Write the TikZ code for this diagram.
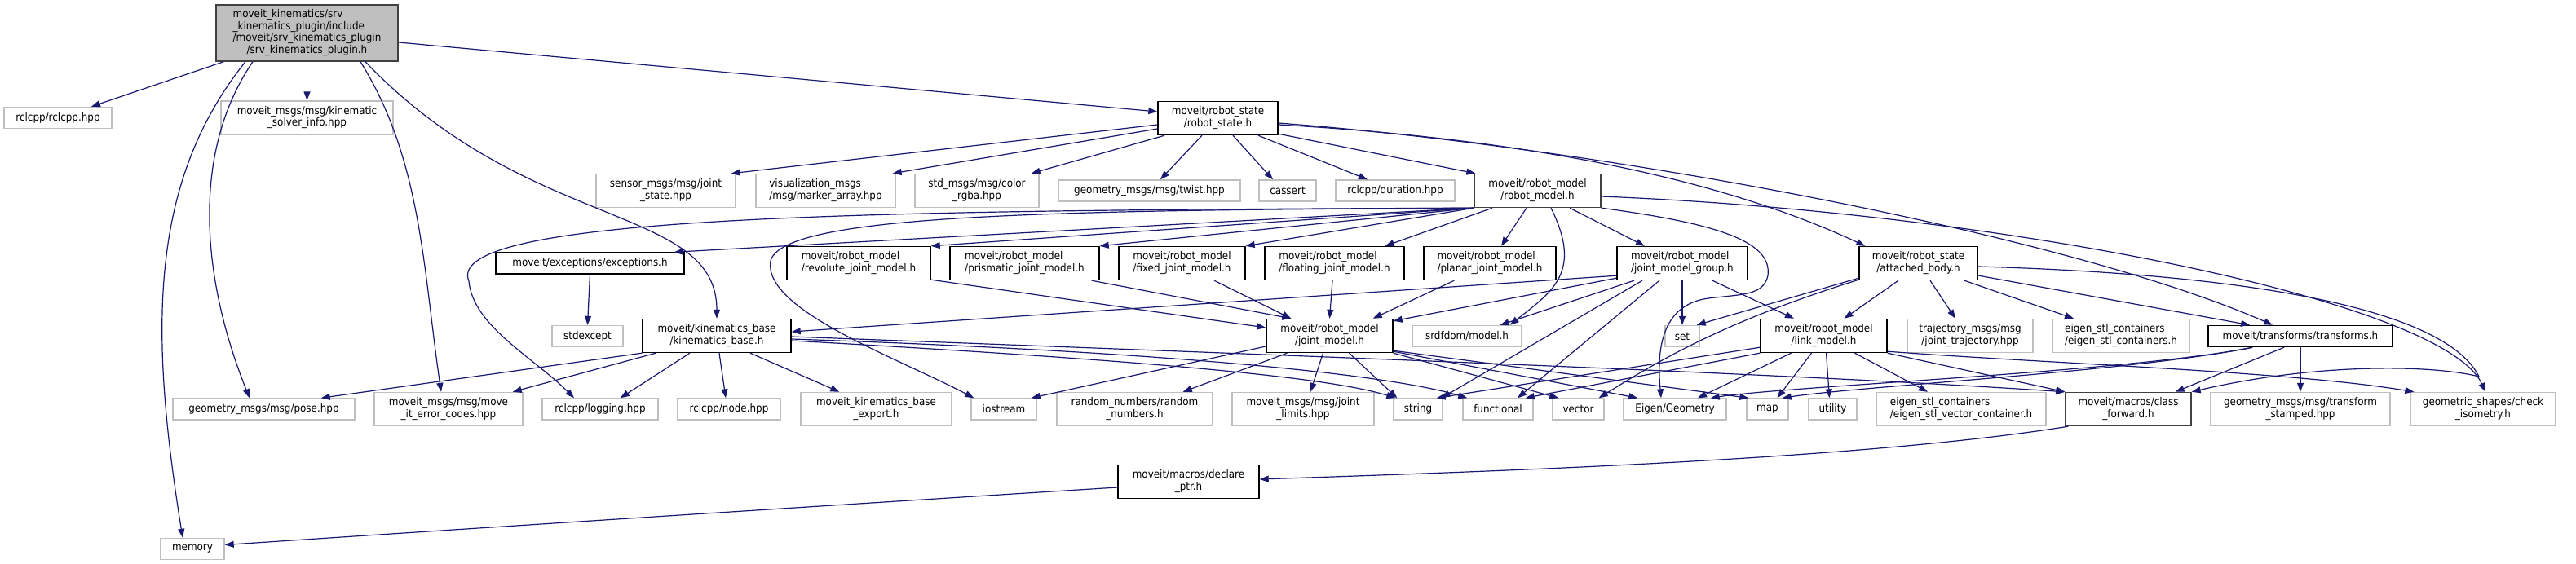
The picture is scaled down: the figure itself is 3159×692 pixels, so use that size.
\documentclass[tikz,border=0pt]{standalone}
\usepackage{fontspec}
\usepackage{xcolor}
\usepackage{tikz}
\usetikzlibrary{arrows.meta}
\newfontfamily\doxyfont{DejaVu Sans Condensed}
\definecolor{edgeblue}{RGB}{25,25,112}
\definecolor{extgray}{RGB}{191,191,191}
\definecolor{hubgray}{RGB}{64,64,64}
% all lines left, the last one centred
\newcommand{\flines}[2]{\begin{tabular}{@{}l@{}}#1\\\multicolumn{1}{@{}c@{}}{#2}\end{tabular}}
\tikzset{
  filebox/.style={rectangle, line width=1.4pt, inner sep=2pt, align=center,
                  font={\doxyfont\fontsize{13.3pt}{14.7pt}\selectfont}},
  extf/.style={filebox, draw=extgray, fill=white},
  docf/.style={filebox, draw=black, fill=white},
  hubf/.style={filebox, draw=hubgray, fill=white},
  rootf/.style={filebox, draw=hubgray, fill=extgray},
  oneline/.style={minimum height=26pt},
  twoline/.style={minimum height=41pt},
  incl/.style={-{Triangle[length=11pt,width=8pt]}, draw=edgeblue, line width=1.2pt}
}
\begin{document}
\begin{tikzpicture}[x=1pt,y=-1pt]
\fill[white] (0,0) rectangle (3159,692);
\useasboundingbox (0,0) rectangle (3159,692);
% rank 0 and 1
\node[rootf, minimum width=223pt, minimum height=69pt] (root) at (376.5,40.5)
  {\flines{moveit\_kinematics/srv\\\_kinematics\_plugin/include\\/moveit/srv\_kinematics\_plugin}{/srv\_kinematics\_plugin.h}};
\node[extf, oneline, minimum width=132pt] (rclcpp) at (71,144.5) {rclcpp/rclcpp.hpp};
\node[extf, twoline, minimum width=211pt] (solverinfo) at (376.5,144.5) {\flines{moveit\_msgs/msg/kinematic}{\_solver\_info.hpp}};
\node[docf, twoline, minimum width=147pt] (rstate) at (1493.5,145) {\flines{moveit/robot\_state}{/robot\_state.h}};
% rank 2
\node[extf, twoline, minimum width=171pt] (sensor) at (816.5,234) {\flines{sensor\_msgs/msg/joint}{\_state.hpp}};
\node[extf, twoline, minimum width=171pt] (viz) at (1012.5,234) {\flines{visualization\_msgs}{/msg/marker\_array.hpp}};
\node[extf, twoline, minimum width=152pt] (color) at (1198,234) {\flines{std\_msgs/msg/color}{\_rgba.hpp}};
\node[extf, oneline, minimum width=223pt] (twist) at (1409.5,234) {geometry\_msgs/msg/twist.hpp};
\node[extf, oneline, minimum width=70pt] (stdcassert) at (1579,234) {cassert};
\node[extf, oneline, minimum width=146pt] (duration) at (1711,234) {rclcpp/duration.hpp};
\node[hubf, twoline, minimum width=155pt] (rmodel) at (1885.5,234) {\flines{moveit/robot\_model}{/robot\_model.h}};
% rank 3
\node[docf, oneline, minimum width=231pt] (except) at (723.5,323) {moveit/exceptions/exceptions.h};
\node[docf, twoline, minimum width=176pt] (revolute) at (1053,323) {\flines{moveit/robot\_model}{/revolute\_joint\_model.h}};
\node[docf, twoline, minimum width=183pt] (prismatic) at (1256.5,323) {\flines{moveit/robot\_model}{/prismatic\_joint\_model.h}};
\node[docf, twoline, minimum width=155pt] (fixed) at (1449.5,323) {\flines{moveit/robot\_model}{/fixed\_joint\_model.h}};
\node[docf, twoline, minimum width=171pt] (floating) at (1636.5,323) {\flines{moveit/robot\_model}{/floating\_joint\_model.h}};
\node[docf, twoline, minimum width=162pt] (planar) at (1827,323) {\flines{moveit/robot\_model}{/planar\_joint\_model.h}};
\node[docf, twoline, minimum width=160pt] (jmg) at (2063,323) {\flines{moveit/robot\_model}{/joint\_model\_group.h}};
\node[docf, twoline, minimum width=145pt] (attached) at (2352.5,323) {\flines{moveit/robot\_state}{/attached\_body.h}};
% rank 4
\node[extf, oneline, minimum width=87pt] (stdexcept) at (720.5,412.5) {stdexcept};
\node[docf, twoline, minimum width=182pt] (kbase) at (879,412) {\flines{moveit/kinematics\_base}{/kinematics\_base.h}};
\node[docf, twoline, minimum width=155pt] (jmodel) at (1630.5,412) {\flines{moveit/robot\_model}{/joint\_model.h}};
\node[extf, oneline, minimum width=134pt] (srdf) at (1799,412.5) {srdfdom/model.h};
\node[extf, oneline, minimum width=42pt] (stdset) at (2063,412.5) {set};
\node[docf, twoline, minimum width=155pt] (lmodel) at (2236.5,412) {\flines{moveit/robot\_model}{/link\_model.h}};
\node[extf, twoline, minimum width=154pt] (trajmsg) at (2416,412) {\flines{trajectory\_msgs/msg}{/joint\_trajectory.hpp}};
\node[extf, twoline, minimum width=168pt] (eigencont) at (2601,412) {\flines{eigen\_stl\_containers}{/eigen\_stl\_containers.h}};
\node[docf, oneline, minimum width=226pt] (transforms) at (2821,412.5) {moveit/transforms/transforms.h};
% rank 5
\node[extf, oneline, minimum width=223pt] (pose) at (323.5,502) {geometry\_msgs/msg/pose.hpp};
\node[extf, twoline, minimum width=182pt] (errcodes) at (550,502) {\flines{moveit\_msgs/msg/move}{\_it\_error\_codes.hpp}};
\node[extf, oneline, minimum width=142pt] (logging) at (736,502) {rclcpp/logging.hpp};
\node[extf, oneline, minimum width=126pt] (rnode) at (894,502) {rclcpp/node.hpp};
\node[extf, twoline, minimum width=185pt] (kexport) at (1074.5,502) {\flines{moveit\_kinematics\_base}{\_export.h}};
\node[extf, oneline, minimum width=80pt] (stdiostream) at (1231,502) {iostream};
\node[extf, twoline, minimum width=191pt] (random) at (1391.5,502) {\flines{random\_numbers/random}{\_numbers.h}};
\node[extf, twoline, minimum width=174pt] (jlimits) at (1598,502) {\flines{moveit\_msgs/msg/joint}{\_limits.hpp}};
\node[extf, oneline, minimum width=60pt] (stdstring) at (1739,502) {string};
\node[extf, oneline, minimum width=86pt] (stdfunctional) at (1837,502) {functional};
\node[extf, oneline, minimum width=63pt] (stdvector) at (1935.5,502) {vector};
\node[extf, oneline, minimum width=126pt] (eigengeo) at (2054,502) {Eigen/Geometry};
\node[extf, oneline, minimum width=51pt] (stdmap) at (2167.5,502) {map};
\node[extf, oneline, minimum width=59pt] (stdutility) at (2247.5,502) {utility};
\node[extf, twoline, minimum width=208pt] (eigenvec) at (2405,502) {\flines{eigen\_stl\_containers}{/eigen\_stl\_vector\_container.h}};
\node[hubf, twoline, minimum width=154pt] (classfwd) at (2610,502) {\flines{moveit/macros/class}{\_forward.h}};
\node[extf, twoline, minimum width=220pt] (tfstamped) at (2821,502) {\flines{geometry\_msgs/msg/transform}{\_stamped.hpp}};
\node[extf, twoline, minimum width=178pt] (isometry) at (3045,502) {\flines{geometric\_shapes/check}{\_isometry.h}};
% rank 6 and 7
\node[docf, twoline, minimum width=173pt] (declptr) at (1457.5,591) {\flines{moveit/macros/declare}{\_ptr.h}};
\node[extf, oneline, minimum width=78pt] (stdmemory) at (236,673.5) {memory};
% bends of the long curves
\coordinate (lgbend) at (575,345);
\coordinate (iobend) at (945,320);
\coordinate (egbendA) at (2168,338);
\coordinate (egbendB) at (2095,366);
\coordinate (hook) at (3040,462);

% srv_kinematics_plugin.h
\draw[incl] ([xshift=10pt]root.south west) -- ([xshift=41pt]rclcpp.north);
\draw[incl] (root.south) -- (solverinfo.north);
\draw[incl] ([yshift=-11.5pt]root.east) -- ([yshift=8pt]rstate.west);
\draw[incl] ([xshift=-75.5pt]root.south) .. controls +(-120,150) and +(-40,-250) .. ([xshift=-12pt]stdmemory.north);
\draw[incl] ([xshift=-66.5pt]root.south) .. controls +(-75,110) and +(-60,-150) .. ([xshift=-17.5pt]pose.north);
\draw[incl] ([xshift=65.5pt]root.south) .. controls +(75,120) and +(-22,-150) .. ([xshift=-9pt]errcodes.north);
\draw[incl] ([xshift=71.5pt]root.south) .. controls +(200,210) and +(0,-140) .. (kbase.north);
% robot_state.h
\draw[incl] ([yshift=-8pt]rstate.west) -- ([xshift=-6pt]sensor.north east);
\draw[incl] ([yshift=-13pt]rstate.west) -- ([xshift=-4pt]viz.north east);
\draw[incl] ([xshift=-65.5pt]rstate.south) -- ([xshift=-10pt]color.north east);
\draw[incl] ([xshift=-19.5pt]rstate.south) -- ([xshift=13.5pt]twist.north);
\draw[incl] ([xshift=18.5pt]rstate.south) -- ([xshift=-18pt]stdcassert.north);
\draw[incl] ([xshift=49.5pt]rstate.south) -- ([xshift=-34pt]duration.north);
\draw[incl] ([yshift=2pt]rstate.south east) -- ([xshift=2pt]rmodel.north west);
\draw[incl] ([yshift=-8pt]rstate.east) .. controls +(350,20) and +(-150,-70) .. ([xshift=8pt]attached.north west);
\draw[incl] ([yshift=-6pt]rstate.east) .. controls +(400,30) and +(-250,-110) .. ([xshift=-34pt]transforms.north);
% robot_model.h
\draw[incl] (rmodel.south west) -- ([xshift=-13pt]except.north east);
\draw[incl] (rmodel.south west) -- (revolute.north east);
\draw[incl] (rmodel.south west) -- (prismatic.north east);
\draw[incl] (rmodel.south west) -- (fixed.north east);
\draw[incl] ([xshift=-55.5pt]rmodel.south) -- ([xshift=-24pt]floating.north east);
\draw[incl] ([xshift=-13.5pt]rmodel.south) -- ([xshift=14pt]planar.north);
\draw[incl] ([xshift=39.5pt]rmodel.south) -- ([xshift=-46pt]jmg.north);
\draw[incl] ([xshift=16.5pt]rmodel.south) .. controls +(40,80) and +(50,-40) .. ([xshift=-15pt]srdf.north east);
\draw[incl] (rmodel.south east) .. controls +(150,20) and +(5,-40) .. (egbendA) .. controls +(-5,25) and +(40,-5) .. (egbendB) .. controls +(-60,8) and +(-5,-55) .. ([xshift=-17pt]eigengeo.north);
\draw[incl] (rmodel.south west) .. controls (1100,258) and (540,262) .. (lgbend) .. controls +(5,55) and +(-50,-50) .. ([xshift=-32pt]logging.north);
\draw[incl] (rmodel.south west) .. controls (1300,258) and (960,262) .. (iobend) .. controls +(-10,60) and +(-95,-50) .. ([xshift=4pt]stdiostream.north west);
\draw[incl] ([yshift=-7pt]rmodel.east) .. controls +(500,20) and +(-50,-110) .. ([xshift=3pt]isometry.north);
% exceptions.h
\draw[incl] (except.south) -- (stdexcept.north);
% joint model headers
\draw[incl] ([yshift=1pt]revolute.south east) -- ([yshift=10pt]jmodel.west);
\draw[incl] ([xshift=-10pt]prismatic.south east) -- ([xshift=31pt]jmodel.north west);
\draw[incl] ([xshift=39.5pt]fixed.south) -- ([xshift=31pt]jmodel.north west);
\draw[incl] ([xshift=-2.5pt]floating.south) -- (jmodel.north);
\draw[incl] ([xshift=38pt]planar.south west) -- ([xshift=-25pt]jmodel.north east);
% joint_model_group.h
\draw[incl] ([yshift=6pt]jmg.south west) -- ([yshift=5pt]kbase.east);
\draw[incl] ([yshift=3pt]jmg.south west) -- ([yshift=-3pt]jmodel.north east);
\draw[incl] ([xshift=-59pt]jmg.south) -- ([xshift=-27pt]srdf.north east);
\draw[incl] ([xshift=-49pt]jmg.south) -- ([xshift=-2pt]stdstring.north east);
\draw[incl] ([xshift=-28pt]jmg.south) -- ([xshift=24pt]stdfunctional.north);
\draw[incl] (jmg.south) -- (stdset.north);
\draw[incl] ([xshift=37pt]jmg.south) -- ([xshift=-36.5pt]lmodel.north);
% kinematics_base.h
\draw[incl] (kbase.south west) -- ([xshift=-42pt]pose.north east);
\draw[incl] ([xshift=17pt]kbase.south west) -- ([xshift=-13pt]errcodes.north east);
\draw[incl] ([xshift=-33pt]kbase.south) -- ([xshift=-47pt]logging.north east);
\draw[incl] ([xshift=3pt]kbase.south) -- ([xshift=-4pt]rnode.north);
\draw[incl] ([xshift=41pt]kbase.south) -- ([xshift=48pt]kexport.north west);
\draw[incl] ([yshift=-6pt]kbase.east) .. controls +(450,25) and +(-80,-25) .. ([xshift=3pt]stdstring.north west);
\draw[incl] ([yshift=-4pt]kbase.east) .. controls +(450,15) and +(-100,-30) .. ([xshift=6pt]stdfunctional.north west);
\draw[incl] ([yshift=-1pt]kbase.east) .. controls +(800,30) and +(-300,-20) .. (classfwd.north west);
% joint_model.h
\draw[incl] ([yshift=-13pt]jmodel.west) -- ([xshift=-7pt]stdiostream.north east);
\draw[incl] ([xshift=-52pt]jmodel.south) -- ([xshift=-37pt]random.north east);
\draw[incl] ([xshift=-8pt]jmodel.south) -- ([xshift=9pt]jlimits.north);
\draw[incl] ([xshift=24pt]jmodel.south) -- ([xshift=5pt]stdstring.north west);
\draw[incl] (jmodel.south east) -- ([xshift=8pt]stdvector.north west);
\draw[incl] ([yshift=2pt]jmodel.south east) -- ([xshift=18pt]eigengeo.north west);
\draw[incl] ([yshift=3pt]jmodel.south east) -- ([xshift=3pt]stdmap.north west);
% link_model.h
\draw[incl] ([yshift=7pt]lmodel.south west) -- ([xshift=-8pt]stdstring.north east);
\draw[incl] (lmodel.south west) -- ([xshift=-10pt]stdfunctional.north east);
\draw[incl] ([xshift=-40pt]lmodel.south) -- ([xshift=28pt]eigengeo.north);
\draw[incl] ([xshift=-15pt]lmodel.south) -- ([xshift=12pt]stdmap.north);
\draw[incl] ([xshift=3pt]lmodel.south) -- ([xshift=-4pt]stdutility.north);
\draw[incl] ([xshift=38pt]lmodel.south) -- ([xshift=-41pt]eigenvec.north);
\draw[incl] (lmodel.south east) -- (classfwd.north west);
\draw[incl] ([yshift=2pt]lmodel.south east) .. controls +(200,15) and +(-150,-25) .. ([xshift=5pt]isometry.north west);
% attached_body.h
\draw[incl] ([xshift=-24.5pt]attached.south) -- ([xshift=25pt]lmodel.north);
\draw[incl] ([xshift=14.5pt]attached.south) -- ([xshift=-18pt]trajmsg.north);
\draw[incl] ([xshift=56.5pt]attached.south) -- ([xshift=-58pt]eigencont.north);
\draw[incl] ([yshift=3pt]attached.south west) -- ([xshift=-4pt]stdset.north east);
\draw[incl] ([yshift=1pt]attached.south west) .. controls +(-160,50) and +(80,-50) .. ([xshift=-7pt]stdvector.north east);
\draw[incl] ([yshift=-15pt]attached.east) -- ([xshift=-62pt]transforms.north);
\draw[incl] ([yshift=-4pt]attached.east) .. controls +(350,10) and +(-40,-80) .. (hook) .. controls +(-60,-15) and +(150,-35) .. (classfwd.north east);
% transforms.h
\draw[incl] ([xshift=-20pt]transforms.south) -- ([xshift=-20pt]classfwd.north east);
\draw[incl] (transforms.south) -- (tfstamped.north);
\draw[incl] ([xshift=55pt]transforms.south west) .. controls +(-150,30) and +(100,-15) .. ([xshift=-20pt]eigengeo.north east);
\draw[incl] ([xshift=55pt]transforms.south west) .. controls +(-150,30) and +(100,-15) .. ([xshift=-8pt]stdmap.north east);
% macros
\draw[incl] ([xshift=4pt]classfwd.south west) .. controls +(-250,40) and +(300,-10) .. ([yshift=3pt]declptr.east);
\draw[incl] ([yshift=-7pt]declptr.west) .. controls +(-400,25) and +(300,-20) .. ([yshift=5pt]stdmemory.east);
\end{tikzpicture}
\end{document}
